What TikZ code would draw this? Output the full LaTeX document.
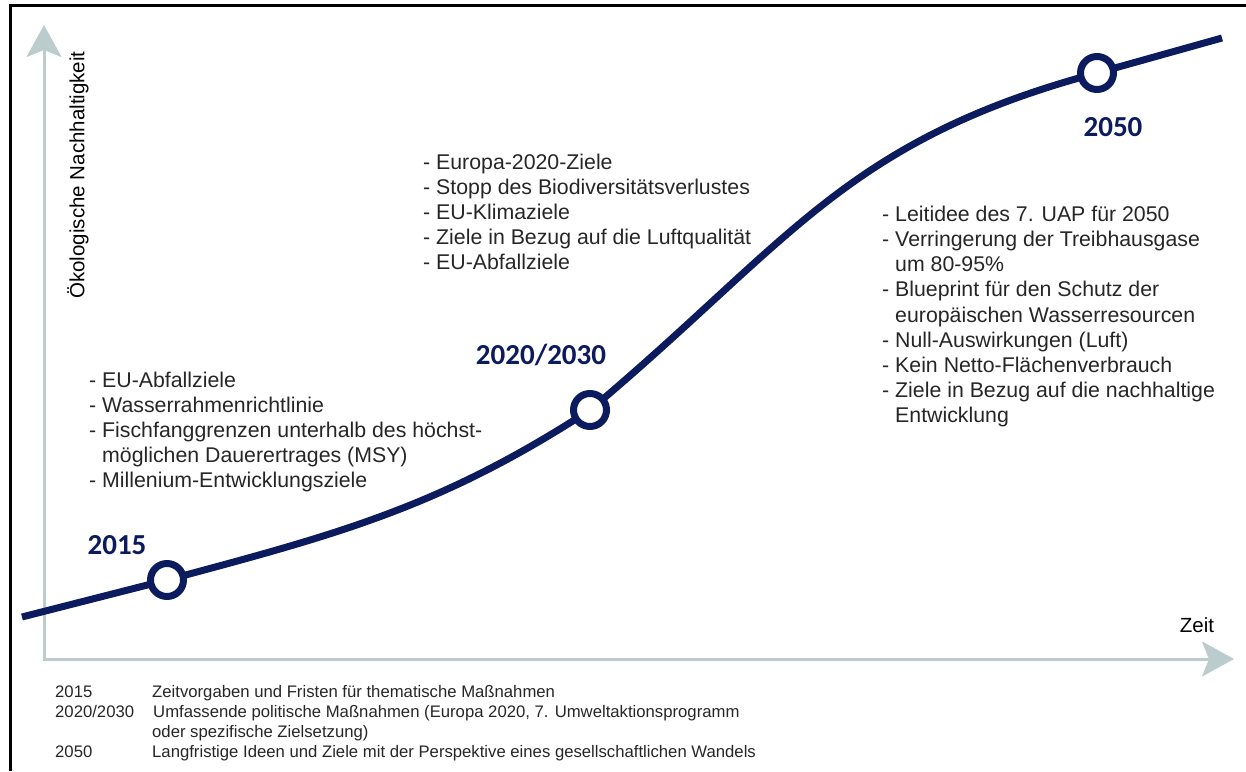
\documentclass[tikz,border=0pt]{standalone}
\usepackage{fontspec}
\setmainfont{Liberation Sans}
\newfontfamily\yearfont{Carlito}
\usetikzlibrary{arrows.meta}
\definecolor{navy}{RGB}{12,26,94}
\definecolor{axisgray}{RGB}{186,204,204}

\begin{document}
\begin{tikzpicture}[x = 1pt, y = 1pt, >= {Stealth[length = 32pt, width = 35pt, inset = 7pt]},
    axis/.style = {draw = axisgray, line width = 3pt},
    curve/.style = {draw = navy, line width = 7pt},
    milestone/.style = {circle, draw = navy, line width = 7pt, fill = white, minimum size = 33pt, inner sep = 0pt},
    year/.style = {font = \yearfont\bfseries\fontsize{29}{29}\selectfont, text = navy},
    goals/.style = {align = left, anchor = base west, inner sep = 0pt, font = \fontsize{21.3}{25.2}\selectfont, text = black!85},
    legend/.style = {anchor = base west, inner sep = 0pt, font = \fontsize{16.7}{20}\selectfont, text = black!85}]
    \useasboundingbox (0, 0) rectangle (1246, 771);

    % frame
    \draw [line width = 3pt] (10, 0) -- (10, 765) -- (1246, 765);

    % axes
    \coordinate (origin) at (44, 112);
    \coordinate (ytip) at (44, 746);
    \coordinate (xtip) at (1234, 112);
    \draw [axis, <->] (ytip) -- (origin) -- (xtip);
    \node [font = \fontsize{20.5}{20.5}\selectfont, rotate = 90] (ylabel) at (78, 596) {Ökologische Nachhaltigkeit};
    \node [font = \fontsize{20.5}{20.5}\selectfont] (xlabel) at (1197, 146) {Zeit};

    % curve
    \coordinate (start) at (22, 154);
    \coordinate (k2015) at (167, 191);
    \coordinate (k2020) at (590, 361);
    \coordinate (k2050) at (1097, 698);
    \coordinate (end) at (1222, 733);
    \draw [curve] (start) -- (k2015) to [out = 15, in = 213] (k2020) to [out = 40, in = 195, looseness = 1.1] (k2050) -- (end);

    \node [milestone] (m2015) at (k2015) {};
    \node [milestone] (m2020) at (k2020) {};
    \node [milestone] (m2050) at (k2050) {};

    \node [year] (y2015) at (117, 226) {2015};
    \node [year] (y2020) at (541, 416) {2020/2030};
    \node [year] (y2050) at (1113, 644) {2050};

    %%%%%%%%%%%%%%%%%%%%
    \node [goals] (goals2015) at (89, 283) {- EU-Abfallziele\\- Wasserrahmenrichtlinie\\- Fischfanggrenzen unterhalb des höchst-\\\phantom{- }möglichen Dauerertrages (MSY)\\- Millenium-Entwicklungsziele};
    \node [goals] (goals2020) at (423, 501) {- Europa-2020-Ziele\\- Stopp des Biodiversitätsverlustes\\- EU-Klimaziele\\- Ziele in Bezug auf die Luftqualität\\- EU-Abfallziele};
    \node [goals] (goals2050) at (882, 348) {- Leitidee des 7. UAP für 2050\\- Verringerung der Treibhausgase\\\phantom{- }um 80-95\%\\- Blueprint für den Schutz der\\\phantom{- }europäischen Wasserresourcen\\- Null-Auswirkungen (Luft)\\- Kein Netto-Flächenverbrauch\\- Ziele in Bezug auf die nachhaltige\\\phantom{- }Entwicklung};

    % legend
    \node [legend] (l2015) at (55, 74) {2015};
    \node [legend] (t2015) at (152, 74) {Zeitvorgaben und Fristen für thematische Maßnahmen};
    \node [legend] (l2020) at (55, 54) {2020/2030};
    \node [legend] (t2020) at (153, 54) {Umfassende politische Maßnahmen (Europa 2020, 7. Umweltaktionsprogramm};
    \node [legend] (t2020b) at (152, 34) {oder spezifische Zielsetzung)};
    \node [legend] (l2050) at (55, 14) {2050};
    \node [legend] (t2050) at (152, 14) {Langfristige Ideen und Ziele mit der Perspektive eines gesellschaftlichen Wandels};
\end{tikzpicture}
\end{document}
